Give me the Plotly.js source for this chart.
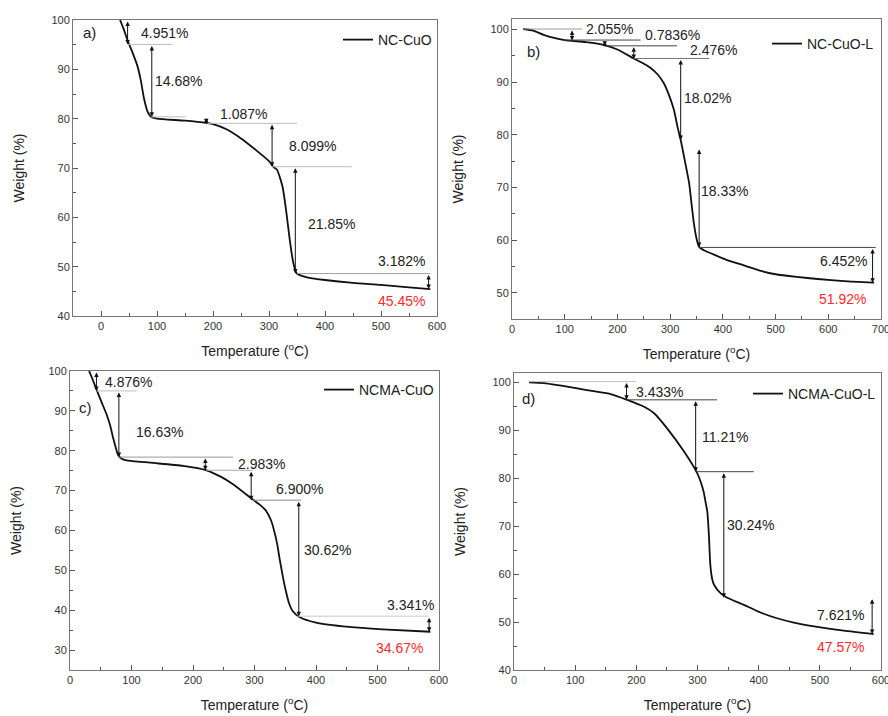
<!DOCTYPE html>
<html>
<head>
<meta charset="utf-8">
<script src="https://cdn.plot.ly/plotly-3.0.1.min.js"></script>
<style>html,body{margin:0;padding:0;background:#fff;}#chart{width:888px;height:716px;}</style>
</head>
<body>
<div id="chart"></div>
<script>
// ---------- Data ----------
// Panel a) NC-CuO
const aT = [34, 40, 48, 56, 65, 71, 77, 83, 89, 100, 150, 190, 200, 225, 250, 275, 300, 308, 314, 324, 331, 337, 343, 349, 355, 370, 400, 450, 500, 550, 588];
const aW = [100, 98.3, 95.7, 93.5, 90.7, 87.8, 84, 81.5, 80.4, 80, 79.6, 79.1, 78.9, 77.8, 76, 73.8, 71.4, 70.2, 69.7, 66.3, 61, 55.5, 51, 48.7, 48.3, 47.8, 47.3, 46.7, 46.3, 45.8, 45.45];
const aLoss = ['4.951%', '14.68%', '1.087%', '8.099%', '21.85%', '3.182%'];
const aStepX = [47.5, 90.7, 188, 305.5, 347, 585];
const aStepTop = [100, 95.05, 80.37, 79.05, 70.26, 48.6];
const aStepBot = [95.05, 80.37, 79.05, 70.26, 48.6, 45.45];
const aGuideY = [95.05, 80.37, 79.05, 70.26, 48.6];
const aGuideX0 = [48, 89, 190, 305, 350];
const aGuideX1 = [128, 151, 350, 448, 588];
const aLabelX = [113, 139, 255, 377, 412, 537];
const aLabelY = [97.4, 87.6, 81, 74.4, 58.6, 51.1];
const aResidue = '45.45%';

// Panel b) NC-CuO-L
const bT = [21, 40, 60, 80, 100, 140, 174, 200, 231, 250, 263, 276, 288, 298, 307, 314, 320, 328, 336, 341, 345, 350, 355, 365, 377, 408, 440, 470, 500, 540, 580, 630, 687];
const bW = [100.1, 99.8, 99.0, 98.4, 98.0, 97.6, 97.1, 96.2, 94.5, 93.5, 92.7, 91.5, 89.8, 87.5, 84.8, 81.5, 79, 75, 70.8, 66.5, 63.2, 60.3, 58.7, 58, 57.5, 56.2, 55.2, 54.2, 53.5, 53.0, 52.6, 52.2, 51.9];
const bLoss = ['2.055%', '0.7836%', '2.476%', '18.02%', '18.33%', '6.452%'];
const bStepX = [114, 176, 231, 320, 355, 684];
const bStepTop = [100.1, 98.0, 96.9, 94.5, 77.5, 58.6];
const bStepBot = [97.9, 96.9, 94.4, 79.0, 58.7, 51.9];
const bGuideY = [100.1, 98.0, 96.9, 94.5, 58.6];
const bGuideX0 = [21, 99, 174, 231, 355];
const bGuideX1 = [133, 244, 313, 374, 690];
const bLabelX = [185, 304, 383, 370, 404, 628];
const bLabelY = [100.1, 98.9, 96.2, 87.0, 69.4, 56.1];
const bResidue = '51.92%';

// Panel c) NCMA-CuO
const cT = [31, 37, 43, 51, 59.5, 65, 70, 74, 78, 84, 92, 130, 184, 222, 245, 265, 297, 310, 319, 327, 332, 337, 340.5, 346, 351, 356, 362, 373, 400, 454, 508, 586];
const cW = [100, 97.8, 95.4, 92.3, 89.1, 86.5, 83.3, 81, 79, 78, 77.6, 77.0, 76.2, 75.1, 73.5, 71.6, 67.8, 66.3, 64.9, 62.5, 59.9, 56.5, 53.2, 48.5, 44.8, 41.8, 39.8, 38.3, 36.9, 35.8, 35.2, 34.6];
const cLoss = ['4.876%', '16.63%', '2.983%', '6.900%', '30.62%', '3.341%'];
const cStepX = [43, 79.5, 220, 294.6, 372, 584];
const cStepTop = [100, 95.0, 78.4, 75.1, 67.6, 38.5];
const cStepBot = [95.0, 78.4, 75.1, 67.6, 38.5, 34.6];
const cGuideY = [95.0, 78.4, 75.1, 67.6, 38.5];
const cGuideX0 = [43, 78, 222, 297, 370];
const cGuideX1 = [108, 265, 297, 376, 584];
const cLabelX = [94.6, 146, 311, 373, 418, 554];
const cLabelY = [97.3, 84.8, 76.6, 70.5, 55.1, 41.3];
const cResidue = '34.67%';

// Panel d) NCMA-CuO-L
const dT = [24.5, 49, 75, 103.5, 130, 158, 185, 212, 229, 250, 278, 299.5, 306, 310, 314, 316, 318.6, 321, 324, 327, 338, 348.6, 376, 403, 430, 457.5, 485, 539, 588];
const dW = [100.05, 99.9, 99.4, 98.8, 98.2, 97.6, 96.4, 95.0, 93.6, 90.5, 85.6, 81.1, 79, 77.2, 74.5, 73.1, 68.2, 61.9, 59, 57.8, 56.0, 55.1, 53.6, 52.0, 50.8, 49.9, 49.2, 48.2, 47.5];
const dLoss = ['3.433%', '11.21%', '30.24%', '7.621%'];
const dStepX = [184, 297, 343, 585.5];
const dStepTop = [100.2, 96.4, 81.4, 55.1];
const dStepBot = [96.4, 81.4, 55.1, 47.5];
const dGuideY = [100.2, 96.4, 81.4];
const dGuideX0 = [24.5, 184, 297];
const dGuideX1 = [200, 332, 392];
const dLabelX = [238.6, 345, 386.7, 534];
const dLabelY = [98.1, 88.6, 70.3, 51.4];
const dResidue = '47.57%';

const names = ['NC-CuO', 'NC-CuO-L', 'NCMA-CuO', 'NCMA-CuO-L'];
const panelTags = ['a)', 'b)', 'c)', 'd)'];

// ---------- Build ----------
const panels = [
  {T: aT, W: aW, loss: aLoss, sx: aStepX, st: aStepTop, sb: aStepBot, gy: aGuideY, gx0: aGuideX0, gx1: aGuideX1, lx: aLabelX, ly: aLabelY, res: aResidue,
   resPos: [537, 43], tagPos: [-21, 97.4], guideColors: ['#bdbdbd', '#bdbdbd', '#bdbdbd', '#bdbdbd', '#a0a0a0']},
  {T: bT, W: bW, loss: bLoss, sx: bStepX, st: bStepTop, sb: bStepBot, gy: bGuideY, gx0: bGuideX0, gx1: bGuideX1, lx: bLabelX, ly: bLabelY, res: bResidue,
   resPos: [627, 48.8], tagPos: [41, 95.9], guideColors: ['#9a9a9a', '#444', '#444', '#777', '#444']},
  {T: cT, W: cW, loss: cLoss, sx: cStepX, st: cStepTop, sb: cStepBot, gy: cGuideY, gx0: cGuideX0, gx1: cGuideX1, lx: cLabelX, ly: cLabelY, res: cResidue,
   resPos: [535, 30.6], tagPos: [26, 90.8], guideColors: ['#bdbdbd', '#999', '#aaa', '#888', '#c8c8c8']},
  {T: dT, W: dW, loss: dLoss, sx: dStepX, st: dStepTop, sb: dStepBot, gy: dGuideY, gx0: dGuideX0, gx1: dGuideX1, lx: dLabelX, ly: dLabelY, res: dResidue,
   resPos: [534, 44.9], tagPos: [23.4, 96.7], guideColors: ['#c0c0c0', '#444', '#444']}
];

const W = 888, H = 716;
const boxes = [ // [left, top, right, bottom] in px
  [73, 20, 437, 316],
  [512, 19, 881, 319],
  [70, 371, 439, 670],
  [514, 373, 881, 670]
];
const xRanges = [[-50, 600], [0, 700], [0, 600], [0, 600]];
const yRanges = [[40, 100], [45, 102], [25, 100], [40, 102]];
const legendPos = [[437, 24], [879, 28], [439, 374], [881, 378]];

const FONT = 'Liberation Sans, Arial, Helvetica, sans-serif';
const traces = [];
const shapes = [];
const annotations = [];
const layout = {
  width: W, height: H,
  margin: {l: 0, r: 0, t: 0, b: 0},
  paper_bgcolor: '#ffffff', plot_bgcolor: '#ffffff',
  font: {family: FONT, size: 14, color: '#222'},
  showlegend: true
};

panels.forEach((p, i) => {
  const n = i === 0 ? '' : String(i + 1);
  const xa = 'x' + n, ya = 'y' + n;
  const lg = 'legend' + n;
  const b = boxes[i];
  traces.push({
    x: p.T, y: p.W, xaxis: xa, yaxis: ya, type: 'scatter', mode: 'lines',
    line: {color: '#111', width: 1.8, shape: 'spline', smoothing: 0.6},
    name: names[i], legend: lg, hoverinfo: 'x+y'
  });
  const axCommon = {
    showline: true, linecolor: '#777', linewidth: 1, mirror: true,
    ticks: 'inside', ticklen: 5, tickwidth: 1, tickcolor: '#555',
    showgrid: false, zeroline: false, ticklabeloverflow: 'allow',
    tickfont: {family: FONT, size: 11, color: '#333'}
  };
  layout['xaxis' + n] = Object.assign({}, axCommon, {
    domain: [b[0] / W, b[2] / W], anchor: ya, range: xRanges[i],
    tick0: 0, dtick: 100,
    minor: {ticks: 'inside', ticklen: 3, dtick: 50, tick0: 0, tickcolor: '#555'},
    title: {text: 'Temperature (<sup>o</sup>C)', font: {family: FONT, size: 14, color: '#222'}, standoff: 14}
  });
  layout['yaxis' + n] = Object.assign({}, axCommon, {
    domain: [1 - b[3] / H, 1 - b[1] / H], anchor: xa, range: yRanges[i],
    tick0: 0, dtick: 10,
    minor: {ticks: 'inside', ticklen: 3, dtick: 5, tick0: 0, tickcolor: '#555'},
    title: {text: 'Weight (%)', font: {family: FONT, size: 14, color: '#222'}, standoff: 23}
  });
  layout[lg] = {
    x: legendPos[i][0] / W, y: 1 - legendPos[i][1] / H, xanchor: 'right', yanchor: 'top',
    bgcolor: 'rgba(0,0,0,0)', borderwidth: 0, font: {family: FONT, size: 14, color: '#222'},
    itemwidth: 30, tracegroupgap: 0
  };
  // guide lines
  p.gy.forEach((gy, k) => {
    shapes.push({type: 'line', xref: xa, yref: ya, x0: p.gx0[k], x1: p.gx1[k], y0: gy, y1: gy,
      line: {color: p.guideColors[k], width: 1}});
  });
  // double arrows
  p.sx.forEach((sx, k) => {
    annotations.push({xref: xa, yref: ya, axref: xa, ayref: ya, x: sx, y: p.sb[k], ax: sx, ay: p.st[k],
      text: '', showarrow: true, arrowside: 'end+start', arrowhead: 2, arrowsize: 0.9, arrowwidth: 1,
      arrowcolor: '#111', standoff: 0, startstandoff: 0});
  });
  // loss labels
  p.loss.forEach((t, k) => {
    annotations.push({xref: xa, yref: ya, x: p.lx[k], y: p.ly[k], text: t, showarrow: false,
      font: {family: FONT, size: 14, color: '#222'}, xanchor: 'center', yanchor: 'middle'});
  });
  // residue
  annotations.push({xref: xa, yref: ya, x: p.resPos[0], y: p.resPos[1], text: p.res, showarrow: false,
    font: {family: FONT, size: 14, color: '#ff2a2a'}, xanchor: 'center', yanchor: 'middle'});
  // panel tag
  annotations.push({xref: xa, yref: ya, x: p.tagPos[0], y: p.tagPos[1], text: panelTags[i], showarrow: false,
    font: {family: FONT, size: 15, color: '#222'}, xanchor: 'center', yanchor: 'middle'});
});

layout.shapes = shapes;
layout.annotations = annotations;

Plotly.newPlot('chart', traces, layout, {staticPlot: true, displayModeBar: false});
</script>
</body>
</html>
